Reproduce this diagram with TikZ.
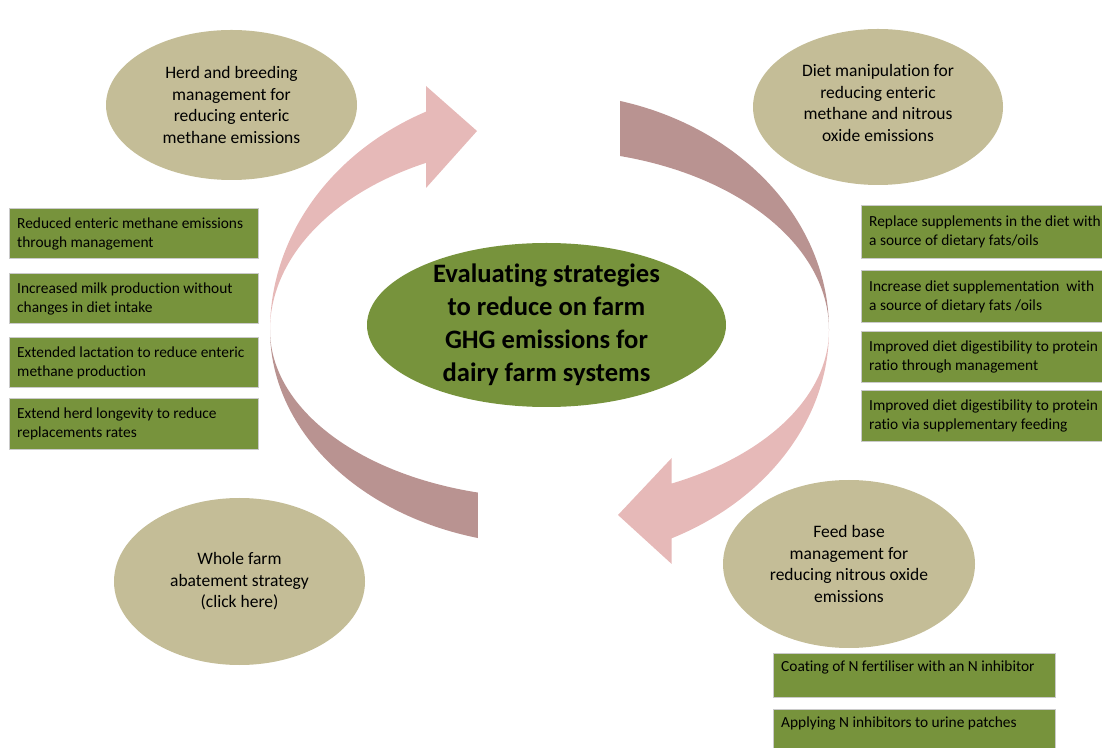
\documentclass[tikz,border=0pt]{standalone}
\usepackage{fontspec}
\setmainfont{Carlito}[Ligatures=NoCommon]
\usepackage{tikz}
\usetikzlibrary{shapes.geometric}
\usetikzlibrary{calc}
\definecolor{blobtan}{HTML}{C4BD97}
\definecolor{goalgreen}{HTML}{77933C}
\definecolor{blush}{HTML}{E6B9B8}
\definecolor{rosewood}{HTML}{B99391}
\definecolor{rim}{HTML}{CACACA}
\newcommand{\tip}[5]{%
  \node[tipbox,minimum width=#3,minimum height=#4,anchor=north west] (#1) at #2 {};
  \node[tiptext,anchor=west] (#1-t) at ([xshift=8pt]#1.west) {#5};}

\begin{document}
\begin{tikzpicture}[x=1pt,y=1pt,
  blob/.style={ellipse,fill=blobtan,inner sep=0pt},
  blobtext/.style={align=center,inner sep=0pt,font=\fontsize{17.5}{21.5}\selectfont},
  tipbox/.style={rectangle,fill=goalgreen,draw=rim,line width=1.2pt,inner sep=0pt},
  tiptext/.style={align=left,inner sep=0pt,font=\fontsize{15.4}{19}\selectfont}]
  \useasboundingbox (0,0) rectangle (1102,747);
  \coordinate (c) at (548,417);
  % circular arrows round the goal
  \fill[rosewood] ($(c)+(75.15:281 and 237)$) arc[start angle=75.15,end angle=0,x radius=281,y radius=237]
    arc[start angle=0,end angle=75.15,x radius=281,y radius=180] -- cycle;
  \fill[blush] ($(c)+(0:281 and 232)$) arc[start angle=0,end angle=-63.9,x radius=281,y radius=232]
    -- (671.7,183) -- (618,232) -- (671.7,289) -- ($(c)+(-63.9:281 and 171)$)
    arc[start angle=-63.9,end angle=0,x radius=281,y radius=171] -- cycle;
  \fill[blush] ($(c)+(180:278 and 243)$) arc[start angle=180,end angle=116.03,x radius=278,y radius=243]
    -- (426,661) -- (477,616) -- (426,559) -- ($(c)+(116.03:278 and 186)$)
    arc[start angle=116.03,end angle=180,x radius=278,y radius=186] -- cycle;
  \fill[rosewood] ($(c)+(180:278 and 215)$) arc[start angle=180,end angle=255.4,x radius=278,y radius=215]
    -- ($(c)+(255.4:278 and 168)$)
    arc[start angle=255.4,end angle=180,x radius=278,y radius=168] -- cycle;

  % ellipses
  \node[blob,fill=goalgreen,minimum width=359,minimum height=164] (goal) at (546.5,422) {};
  \node[align=center,inner sep=0pt,font=\fontsize{26.6}{33}\selectfont\bfseries] (goal-t) at (goal)
    {Evaluating strategies\\to reduce on farm\\GHG emissions for\\dairy farm systems};
  \node[blob,minimum width=251,minimum height=150] (herd) at (231.5,642) {};
  \node[blobtext] (herd-t) at (herd) {Herd and breeding\\management for\\reducing enteric\\methane emissions};
  \node[blob,minimum width=250,minimum height=156] (diet) at (878,640) {};
  \node[blobtext] (diet-t) at ([yshift=4]diet) {Diet manipulation for\\reducing enteric\\methane and nitrous\\oxide emissions};
  \node[blob,minimum width=251,minimum height=167] (whole) at (239.5,165.5) {};
  \node[blobtext] (whole-t) at (whole) {Whole farm\\abatement strategy\\(click here)};
  \node[blob,minimum width=252,minimum height=168] (feed) at (849,183) {};
  \node[blobtext] (feed-t) at (feed) {Feed base\\management for\\reducing nitrous oxide\\emissions};

  % herd boxes
  \tip{h1}{(9,539)}{249}{50}{Reduced enteric methane emissions\\through management}
  \tip{h2}{(9,474)}{249}{50}{Increased milk production without\\changes in diet intake}
  \tip{h3}{(9,410)}{249}{50}{Extended lactation to reduce enteric\\methane production}
  \tip{h4}{(9,349)}{249}{51}{Extend herd longevity to reduce\\replacements rates}
  % diet boxes
  \tip{d1}{(861,542)}{260}{53}{Replace supplements in the diet with\\a source of dietary fats/oils}
  \tip{d2}{(861,477)}{260}{52}{Increase diet supplementation~ with\\a source of dietary fats /oils}
  \tip{d3}{(861,416)}{260}{51}{Improved diet digestibility to protein\\ratio through management}
  \tip{d4}{(861,357)}{260}{51}{Improved diet digestibility to protein\\ratio via supplementary feeding}
  % feed boxes
  \tip{f1}{(773,94)}{282}{44}{Coating of N fertiliser with an N inhibitor\\~}
  \tip{f2}{(773,38)}{282}{44}{Applying N inhibitors to urine patches\\~}
\end{tikzpicture}
\end{document}
